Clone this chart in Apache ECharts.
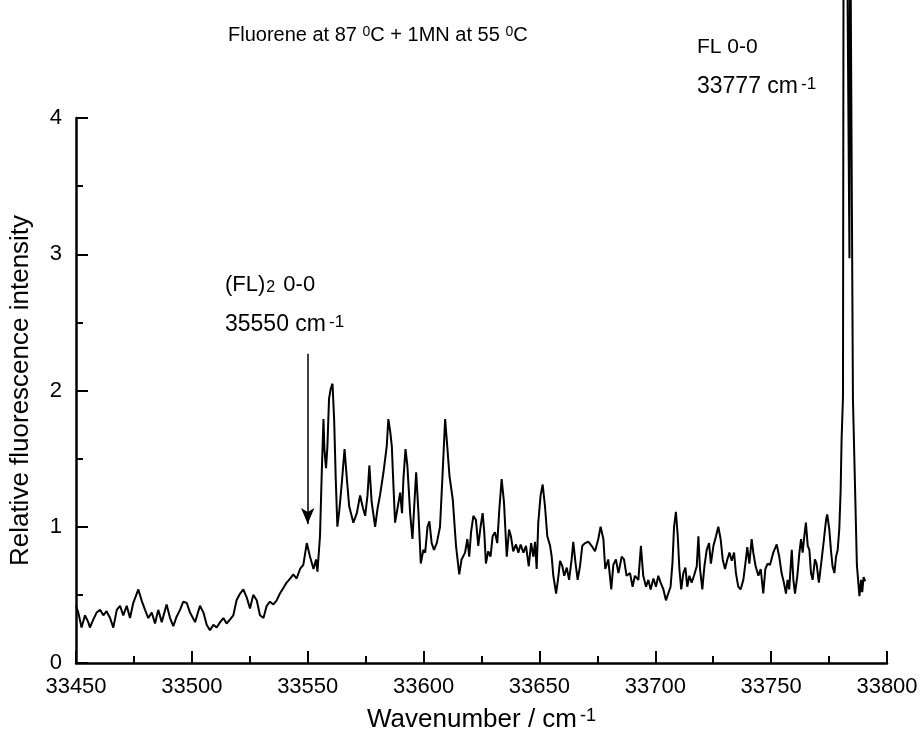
<!DOCTYPE html>
<html>
<head>
<meta charset="utf-8">
<script src="https://cdn.jsdelivr.net/npm/echarts@6/dist/echarts.min.js"></script>
<style>
  html, body { margin: 0; background: #fff; }
  #chart { width: 921px; height: 731px; }
</style>
</head>
<body>
<div id="chart"></div>
<script>
// baseline region, 33450 - 33548 cm-1
const wnBase = [33450.0,33451.0,33452.4,33453.9,33455.3,33456.0,33457.5,33458.9,33460.4,33461.8,33463.2,33464.7,33466.1,33467.6,33469.0,33470.4,33471.9,33473.3,33474.7,33476.9,33478.3,33479.8,33481.2,33482.7,33484.1,33485.5,33487.0,33489.1,33490.6,33492.0,33493.4,33494.9,33496.3,33497.8,33499.2,33501.4,33503.5,33505.0,33506.4,33507.8,33509.3,33510.7,33512.2,33513.6,33515.0,33516.5,33517.9,33519.3,33520.8,33522.2,33523.7,33525.1,33526.5,33528.0,33529.4,33530.9,33532.3,33533.7,33535.2,33536.6,33538.0,33539.5,33540.9,33542.4,33543.8,33545.2,33546.7,33548.1];
const intBase = [0.42,0.37,0.26,0.35,0.30,0.26,0.32,0.37,0.39,0.35,0.38,0.33,0.26,0.39,0.42,0.35,0.42,0.33,0.44,0.54,0.46,0.39,0.33,0.37,0.29,0.39,0.30,0.43,0.33,0.27,0.34,0.39,0.45,0.44,0.37,0.30,0.42,0.37,0.28,0.24,0.28,0.26,0.30,0.33,0.29,0.32,0.35,0.46,0.51,0.54,0.48,0.40,0.50,0.46,0.35,0.33,0.42,0.45,0.43,0.46,0.51,0.55,0.59,0.62,0.65,0.62,0.69,0.72];

// dimer band, 33549 - 33613 cm-1
const wnBand = [33549.6,33551.0,33552.5,33553.6,33554.2,33555.3,33556.1,33556.8,33557.2,33557.9,33558.5,33559.2,33559.9,33560.7,33561.4,33562.1,33562.8,33563.7,33564.7,33565.9,33566.9,33567.9,33569.7,33571.2,33572.6,33573.8,33574.8,33575.8,33576.6,33577.6,33579.1,33580.1,33581.2,33582.7,33584.1,33584.8,33585.6,33586.3,33587.0,33587.7,33588.7,33589.9,33590.7,33591.3,33592.2,33593.0,33594.2,33595.2,33595.9,33596.8,33597.8,33598.8,33599.9,33600.7,33601.7,33602.5,33603.5,33604.5,33605.7,33607.1,33608.1,33609.3,33610.0,33611.2,33612.6];
const intBand = [0.88,0.78,0.69,0.76,0.67,0.93,1.42,1.79,1.57,1.43,1.59,1.94,2.01,2.05,1.79,1.35,1.00,1.13,1.32,1.57,1.35,1.15,1.03,1.10,1.23,1.14,1.08,1.23,1.45,1.18,1.00,1.13,1.23,1.40,1.59,1.79,1.70,1.59,1.30,1.03,1.13,1.25,1.10,1.35,1.57,1.45,1.10,0.91,1.13,1.40,1.10,0.73,0.83,0.81,1.00,1.04,0.88,0.83,0.88,1.00,1.35,1.79,1.64,1.37,1.20];

// 33614 - 33694 cm-1
const wnMid = [33614.0,33615.4,33616.4,33617.9,33618.9,33619.7,33620.5,33621.5,33622.6,33623.6,33624.6,33625.5,33626.2,33626.9,33627.9,33628.9,33629.8,33630.8,33631.8,33632.7,33633.7,33634.7,33635.9,33636.9,33637.7,33638.7,33639.9,33640.9,33641.9,33643.1,33644.2,33645.4,33646.4,33647.4,33648.1,33648.8,33649.5,33650.5,33651.4,33652.4,33653.4,33654.6,33655.3,33656.0,33657.2,33658.2,33658.9,33659.9,33660.7,33661.8,33662.8,33663.9,33664.6,33665.6,33666.5,33667.5,33668.5,33669.7,33671.1,33672.5,33674.0,33675.4,33676.4,33677.6,33678.4,33679.7,33681.0,33681.9,33683.0,33684.1,33685.5,33686.5,33687.6,33689.1,33690.2,33691.2,33692.7,33693.8];
const intMid = [0.86,0.65,0.76,0.81,0.91,0.78,0.96,1.08,1.05,0.86,1.00,1.10,0.96,0.73,0.82,0.78,0.93,0.96,0.88,1.13,1.35,1.18,0.78,0.98,0.93,0.82,0.87,0.81,0.87,0.81,0.86,0.71,0.88,0.78,0.89,0.69,1.03,1.23,1.31,1.15,0.93,0.86,0.78,0.64,0.51,0.64,0.75,0.71,0.64,0.70,0.61,0.76,0.89,0.73,0.61,0.71,0.86,0.88,0.89,0.86,0.82,0.91,1.00,0.91,0.69,0.76,0.54,0.72,0.76,0.66,0.78,0.76,0.64,0.66,0.56,0.64,0.61,0.86];

// 33695 - 33780 cm-1
const wnTail = [33694.8,33696.0,33697.0,33698.0,33699.2,33700.3,33701.3,33702.3,33703.5,33704.6,33705.6,33706.6,33707.4,33708.1,33708.9,33709.7,33710.4,33711.2,33712.1,33713.0,33713.8,33714.7,33715.7,33716.7,33717.9,33718.6,33719.3,33720.3,33721.2,33722.2,33723.2,33724.0,33725.1,33726.2,33727.2,33728.2,33729.1,33730.1,33731.1,33732.0,33733.0,33734.0,33734.8,33735.8,33736.8,33738.0,33739.1,33739.7,33740.6,33741.6,33742.3,33743.3,33744.5,33745.5,33746.6,33747.5,33748.5,33749.5,33750.9,33752.4,33753.5,33754.5,33755.5,33756.4,33757.1,33757.8,33758.9,33759.6,33760.3,33761.3,33762.2,33762.9,33763.6,33764.3,33765.0,33765.8,33766.5,33767.2,33767.9,33768.9,33769.6,33770.6,33771.8,33772.8,33773.7,33774.2,33775.1,33775.8,33776.5,33777.3,33778.0,33778.7,33779.4,33780.0,33780.4];
const intTail = [0.64,0.56,0.61,0.54,0.62,0.56,0.64,0.59,0.54,0.46,0.51,0.56,0.73,1.00,1.11,0.93,0.69,0.54,0.66,0.70,0.56,0.64,0.59,0.64,0.71,0.93,0.69,0.54,0.71,0.83,0.88,0.73,0.86,0.93,1.00,0.91,0.76,0.69,0.76,0.81,0.75,0.81,0.66,0.56,0.54,0.61,0.76,0.85,0.73,0.91,0.81,0.71,0.64,0.69,0.51,0.69,0.73,0.72,0.81,0.87,0.78,0.66,0.59,0.51,0.61,0.54,0.83,0.61,0.51,0.64,0.81,0.91,0.81,0.93,1.03,0.86,0.83,0.66,0.61,0.76,0.73,0.59,0.76,0.91,1.05,1.09,0.98,0.83,0.71,0.66,0.78,0.83,0.98,1.27,1.64];

// monomer 0-0 doublet, off scale at the top
const wnPeak = [33781.0,33781.3,33782.5,33783.8,33784.0,33784.1,33785.3,33787.0,33788.1,33788.8,33789.3,33789.9,33790.6];
const intPeak = [1.95,6.0,6.0,2.97,6.0,6.0,1.94,0.72,0.49,0.61,0.52,0.63,0.60];

// arrow marking the (FL)2 origin
const arrowX = 33550;
const arrowFrom = 2.27;
const arrowTo = 1.02;

const FONT = 'Liberation Sans, Arial, Helvetica, sans-serif';

function zip(wn, val) {
  return wn.map(function (w, i) { return [w, val[i]]; });
}

const spectrum = [].concat(
  zip(wnBase, intBase),
  zip(wnBand, intBand),
  zip(wnMid, intMid),
  zip(wnTail, intTail),
  zip(wnPeak, intPeak)
);

const chart = echarts.init(document.getElementById('chart'), null, { renderer: 'canvas' });

function richSet(size, pad) {
  return {
    sup: { fontSize: size, fontFamily: FONT, color: '#000', verticalAlign: 'top', lineHeight: size, padding: [0, 0, 0, pad] },
    sub: { fontSize: size, fontFamily: FONT, color: '#000', verticalAlign: 'bottom', lineHeight: size, padding: [0, 2, 0, 1] }
  };
}

function note(x, y, text, size, pad) {
  return {
    type: 'text',
    x: x,
    y: y,
    z: 10,
    style: {
      text: text,
      fontSize: size,
      fontFamily: FONT,
      fill: '#000',
      verticalAlign: 'middle',
      rich: richSet(Math.round(size * 0.72), pad)
    }
  };
}

const option = {
  animation: false,
  backgroundColor: '#fff',
  textStyle: { fontFamily: FONT },
  grid: { left: 76, right: 34, top: 118, bottom: 68, containLabel: false, outerBoundsMode: 'none' },
  xAxis: {
    type: 'value',
    min: 33450,
    max: 33800,
    interval: 50,
    name: 'Wavenumber / cm{sup|-1}',
    nameLocation: 'middle',
    nameGap: 44,
    nameTextStyle: { fontSize: 26, fontFamily: FONT, color: '#000', rich: richSet(18, 3) },
    axisLine: { show: true, onZero: false, lineStyle: { color: '#000', width: 2.5 } },
    axisTick: { show: true, inside: true, length: 12, lineStyle: { color: '#000', width: 2 } },
    minorTick: { show: true, splitNumber: 2, length: 7, lineStyle: { color: '#000', width: 2 } },
    splitLine: { show: false },
    axisLabel: {
      margin: 13,
      fontSize: 22,
      fontFamily: FONT,
      color: '#000',
      formatter: function (v) { return String(v); }
    }
  },
  yAxis: {
    type: 'value',
    min: 0,
    max: 4,
    interval: 1,
    name: 'Relative fluorescence intensity',
    nameLocation: 'middle',
    nameGap: 42,
    nameTextStyle: { fontSize: 26, fontFamily: FONT, color: '#000' },
    axisLine: { show: true, lineStyle: { color: '#000', width: 2.5 } },
    axisTick: { show: true, inside: true, length: 12, lineStyle: { color: '#000', width: 2 } },
    minorTick: { show: true, splitNumber: 2, length: 7, lineStyle: { color: '#000', width: 2 } },
    splitLine: { show: false },
    axisLabel: { margin: 14, fontSize: 22, fontFamily: FONT, color: '#000' }
  },
  graphic: [
    note(228, 35, 'Fluorene at 87 {sup|0}C + 1MN at 55 {sup|0}C', 20, 0),
    note(697, 47, 'FL 0-0', 21, 0),
    note(697, 87, '33777 cm{sup|-1}', 23, 3),
    note(225, 285, '(FL){sub|2} 0-0', 22, 0),
    note(225, 325, '35550 cm{sup|-1}', 23, 3)
  ],
  series: [{
    type: 'line',
    data: spectrum,
    showSymbol: false,
    clip: false,
    smooth: false,
    lineStyle: { color: '#000', width: 2 },
    markLine: {
      silent: true,
      symbol: ['none', 'arrow'],
      symbolSize: [10, 16],
      label: { show: false },
      lineStyle: { color: '#000', width: 1.5, type: 'solid' },
      data: [[{ coord: [arrowX, arrowFrom] }, { coord: [arrowX, arrowTo] }]]
    }
  }]
};

chart.setOption(option);
</script>
</body>
</html>
